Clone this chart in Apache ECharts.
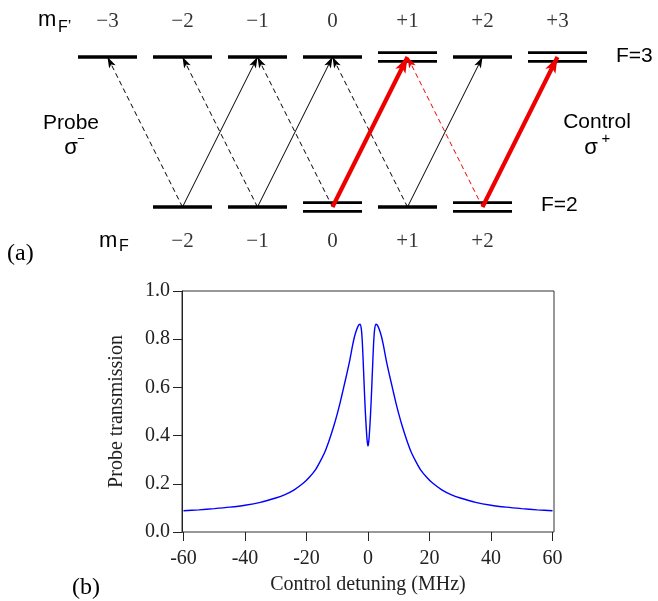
<!DOCTYPE html>
<html>
<head>
<meta charset="utf-8">
<script src="https://cdn.jsdelivr.net/npm/echarts@6/dist/echarts.min.js"></script>
<style>html,body{margin:0;padding:0;background:#fff}#c{width:658px;height:601px}</style>
</head>
<body>
<div id="c"></div>
<script>
// ---------- (a) level diagram data ----------
const upperM = [-3, -2, -1, 0, 1, 2, 3];            // F=3 sublevels m_F'
const upperLabels = ['−3', '−2', '−1', '0', '+1', '+2', '+3'];
const upperDressed = [1, 3];                          // drawn as double lines
const lowerM = [-2, -1, 0, 1, 2];                     // F=2 sublevels m_F
const lowerLabels = ['−2', '−1', '0', '+1', '+2'];
const lowerDressed = [0, 2];
const LOWER_E = 0, UPPER_E = 1;                       // level energies (diagram units)
// transitions [lower m_F, upper m_F']
const probeDashed = [[-2, -3], [-1, -2], [0, -1], [1, 0]];
const probeDashedRed = [[2, 1]];
const sigmaPlusThin = [[-2, -1], [-1, 0], [1, 2]];
const controlRed = [[0, 1], [2, 3]];

// ---------- (b) probe transmission data ----------
const detuning = [-60, -55, -50, -45, -40, -35, -30, -27, -24, -21, -19, -17, -15.5, -14, -12.5, -11, -10, -9, -8, -7, -6, -5, -4.5, -4, -3.5, -3, -2.6, -2.2, -1.9, -1.6, -1.3, -1.0, -0.7, -0.4, -0.15,
  0,
  0.15, 0.4, 0.7, 1.0, 1.3, 1.6, 1.9, 2.2, 2.6, 3, 3.5, 4, 4.5, 5, 6, 7, 8, 9, 10, 11, 12.5, 14, 15.5, 17, 19, 21, 24, 27, 30, 35, 40, 45, 50, 55, 60];
const transmission = [0.088, 0.092, 0.097, 0.103, 0.111, 0.123, 0.141, 0.155, 0.175, 0.203, 0.228, 0.260, 0.294, 0.333, 0.385, 0.445, 0.490, 0.540, 0.595, 0.650, 0.708, 0.775, 0.805, 0.828, 0.846, 0.859, 0.862, 0.845, 0.800, 0.720, 0.625, 0.535, 0.460, 0.398, 0.365,
  0.357,
  0.365, 0.398, 0.460, 0.535, 0.625, 0.720, 0.800, 0.845, 0.862, 0.859, 0.846, 0.828, 0.805, 0.775, 0.708, 0.650, 0.595, 0.540, 0.490, 0.445, 0.385, 0.333, 0.294, 0.260, 0.228, 0.203, 0.175, 0.155, 0.141, 0.123, 0.111, 0.103, 0.097, 0.092, 0.088];
const xTicks = { min: -60, max: 60, interval: 20 };
const yTicks = { min: 0, max: 1, interval: 0.2 };

// ---------- layout / style ----------
const TOP_LABEL_E = 1.24, BOTTOM_LABEL_E = -0.232;
const SERIF = 'Liberation Serif', SANS = 'Liberation Sans';
const RED = '#ee0000';

const chart = echarts.init(document.getElementById('c'), null, { renderer: 'canvas' });

function levelPoints(ms, e, pick) {
  return ms.filter(m => pick(m)).map(m => [m, e]);
}
function arrowData(list) {
  return list.map(([lo, up]) => ({ coords: [[lo, LOWER_E], [up, UPPER_E]] }));
}
function arrowSeries(list, color, width, dashed, head) {
  return {
    type: 'lines', coordinateSystem: 'cartesian2d', xAxisIndex: 0, yAxisIndex: 0,
    data: arrowData(list), silent: true, animation: false, z: 3,
    symbol: ['none', 'arrow'], symbolSize: [0, head],
    lineStyle: { color: color, width: width, type: dashed ? [5, 3.5] : 'solid', opacity: 1 },
    itemStyle: { color: color, opacity: 1 }
  };
}
const singleStyle = { type: 'scatter', xAxisIndex: 0, yAxisIndex: 0, symbol: 'rect', silent: true, animation: false, itemStyle: { color: '#000', opacity: 1 }, z: 2 };

const series = [
  Object.assign({}, singleStyle, { symbolSize: [59, 3.4],
    data: levelPoints(upperM, UPPER_E, m => !upperDressed.includes(m)).concat(levelPoints(lowerM, LOWER_E, m => !lowerDressed.includes(m))) }),
  Object.assign({}, singleStyle, { symbolSize: [59, 2.8], symbolOffset: [0, -4.3],
    data: levelPoints(upperM, UPPER_E, m => upperDressed.includes(m)).concat(levelPoints(lowerM, LOWER_E, m => lowerDressed.includes(m))) }),
  Object.assign({}, singleStyle, { symbolSize: [59, 2.8], symbolOffset: [0, 4.3],
    data: levelPoints(upperM, UPPER_E, m => upperDressed.includes(m)).concat(levelPoints(lowerM, LOWER_E, m => lowerDressed.includes(m))) }),
  {
    type: 'scatter', xAxisIndex: 0, yAxisIndex: 0, symbolSize: 0, silent: true, animation: false,
    data: upperM.map((m, i) => ({ name: upperLabels[i], value: [m, TOP_LABEL_E] }))
      .concat(lowerM.map((m, i) => ({ name: lowerLabels[i], value: [m, BOTTOM_LABEL_E] }))),
    label: { show: true, position: 'inside', formatter: '{b}', fontFamily: SERIF, fontSize: 21, color: '#000' }
  },
  arrowSeries(probeDashed, '#000', 1, true, [5.5, 11]),
  arrowSeries(probeDashedRed, RED, 1, true, [5.5, 11]),
  arrowSeries(sigmaPlusThin, '#000', 1, false, [5.5, 11]),
  arrowSeries(controlRed, RED, 4.2, false, [8.5, 16]),
  {
    type: 'line', xAxisIndex: 2, yAxisIndex: 2, showSymbol: false, symbol: 'none', smooth: 0.25,
    animation: false, silent: true,
    data: detuning.map((d, i) => [d, transmission[i]]),
    lineStyle: { color: '#0000ff', width: 1.4 }
  }
];

function txt(x, y, text, font, size, extra) {
  return Object.assign({ type: 'text', x: x, y: y, silent: true,
    style: Object.assign({ text: text, fontFamily: font, fontSize: size, fill: '#000', align: 'left', verticalAlign: 'middle' }, extra || {}) });
}

const option = {
  backgroundColor: '#fff',
  grid: [
    { left: 70, top: 12, width: 525, height: 255, show: false },
    { left: 182, top: 291, width: 372, height: 241, show: true, borderColor: '#333', borderWidth: 1, backgroundColor: 'transparent' },
    { left: 183.5, top: 291, width: 369, height: 241, show: false }
  ],
  xAxis: [
    { gridIndex: 0, type: 'value', min: -3.5, max: 3.5, show: false },
    { gridIndex: 1, type: 'value', min: 0, max: 1, show: false },
    { gridIndex: 2, type: 'value', min: xTicks.min, max: xTicks.max, interval: xTicks.interval,
      axisLine: { show: false }, splitLine: { show: false },
      axisTick: { show: true, inside: false, length: 9, lineStyle: { color: '#222', width: 1 } },
      axisLabel: { fontFamily: SERIF, fontSize: 20, color: '#222', margin: 17 },
      name: 'Control detuning (MHz)', nameLocation: 'middle', nameGap: 43,
      nameTextStyle: { fontFamily: SERIF, fontSize: 20, color: '#222' } }
  ],
  yAxis: [
    { gridIndex: 0, type: 'value', min: -0.4, max: 1.3, show: false },
    { gridIndex: 1, type: 'value', min: yTicks.min, max: yTicks.max, interval: yTicks.interval,
      axisLine: { show: true, lineStyle: { color: '#222', width: 1 } }, splitLine: { show: false },
      axisTick: { show: true, inside: false, length: 9, lineStyle: { color: '#222', width: 1 } },
      axisLabel: { fontFamily: SERIF, fontSize: 20, color: '#222', margin: 12, formatter: v => v.toFixed(1) },
      name: 'Probe transmission', nameLocation: 'middle', nameRotate: 90, nameGap: 55,
      nameTextStyle: { fontFamily: SERIF, fontSize: 20, color: '#222' } },
    { gridIndex: 2, type: 'value', min: 0, max: 1, show: false }
  ],
  graphic: [
    txt(38, 20, 'm', SANS, 22),
    txt(58, 28, 'F’', SANS, 16),
    txt(99, 241, 'm', SANS, 22),
    txt(119, 247, 'F', SANS, 16),
    txt(616, 56, 'F=3', SANS, 21),
    txt(541, 205, 'F=2', SANS, 21),
    txt(71, 123, 'Probe', SANS, 21, { align: 'center' }),
    txt(71, 148, 'σ', SANS, 22, { align: 'center' }),
    txt(81, 139, '−', SANS, 13, { align: 'center' }),
    txt(597, 122, 'Control', SANS, 21, { align: 'center' }),
    txt(591, 148, 'σ', SANS, 22, { align: 'center' }),
    txt(606, 139, '+', SANS, 15, { align: 'center' }),
    txt(7, 254, '(a)', SERIF, 24),
    txt(72, 588, '(b)', SERIF, 24)
  ],
  series: series
};
chart.setOption(option);
</script>
</body>
</html>
